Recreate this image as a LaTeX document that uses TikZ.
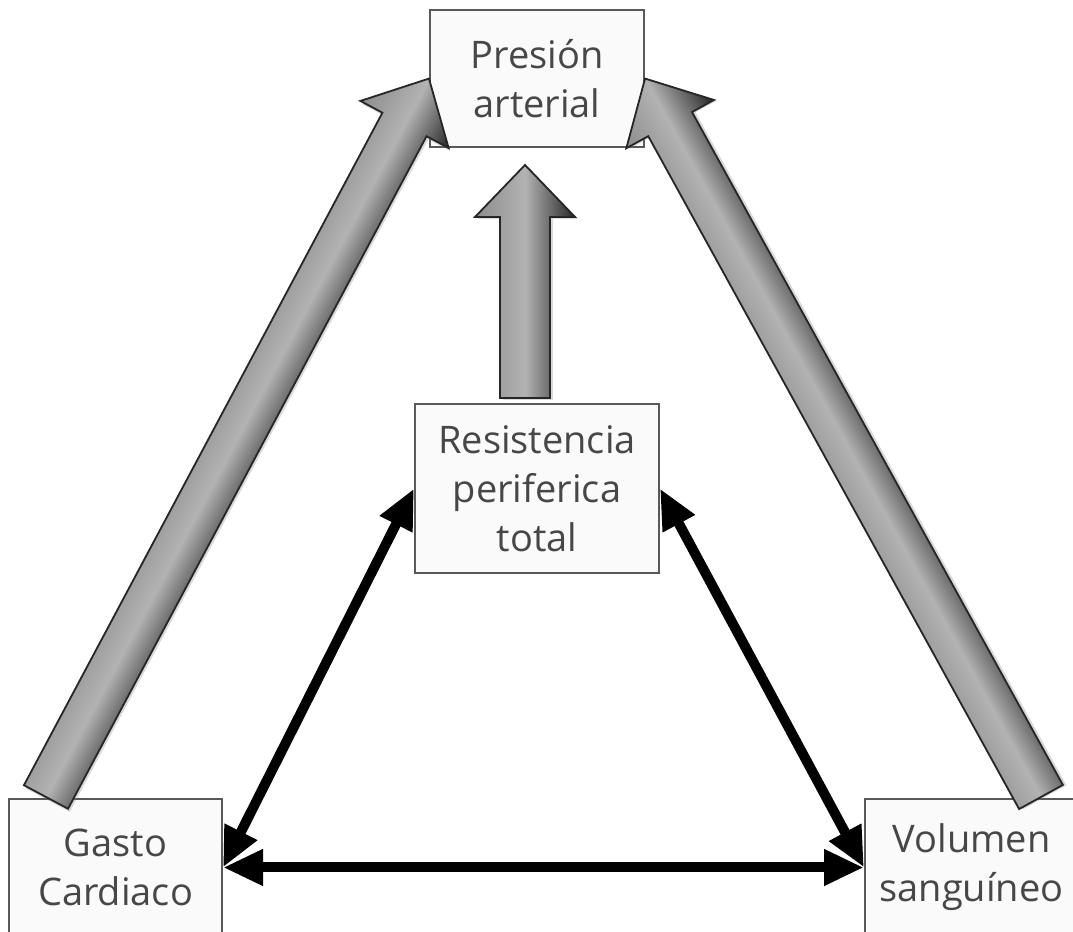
\documentclass[tikz,border=0pt]{standalone}
\usepackage{fontspec}
\setmainfont{Open Sans}
\usetikzlibrary{arrows.meta,calc,shadows}

\tikzset{
  box/.style={shape=rectangle, draw=black!65, line width=1pt, fill=black!2,
    text=black!72, align=center, inner sep=0pt,
    font=\fontsize{19}{24.5}\selectfont},
  bigarrow/.style={draw=black!85, line width=0.9pt, top color=black!45,
    bottom color=black!85, middle color=black!30,
    drop shadow={opacity=0.3, shadow xshift=-1pt, shadow yshift=-1.5pt}},
  twoway/.style={line width=5pt,
    {Triangle[length=20pt,width=17pt]}-{Triangle[length=20pt,width=17pt]}}
}

% thick shaded arrow from #1 to #2
\newcommand{\grayarrow}[2]{%
  \path let \p1=($(#2)-(#1)$) in
    \pgfextra{\pgfmathsetmacro\arrang{atan2(\y1,\x1)}%
              \pgfmathsetmacro\arrlen{veclen(\x1,\y1)}%
              \xdef\arrang{\arrang}\xdef\arrlen{\arrlen}};
  \begin{scope}[transform canvas={shift={(#1)}, rotate=\arrang}]
    \shade[bigarrow] (0pt,-12.5pt) -- (\arrlen pt-26pt,-12.5pt)
      -- (\arrlen pt-26pt,-25pt) -- (\arrlen pt,0pt)
      -- (\arrlen pt-26pt,25pt) -- (\arrlen pt-26pt,12.5pt)
      -- (0pt,12.5pt) -- cycle;
  \end{scope}}

\begin{document}
\begin{tikzpicture}[x=0.5pt, y=0.5pt]
\useasboundingbox (0,0) rectangle (1073,932);

\node at (537, 853.5) [box, minimum width=107pt, minimum height=68.5pt] (presion) {Presión\\arterial};
\node at (537, 443.5) [box, minimum width=122pt, minimum height=84.5pt] (resist) {Resistencia\\periferica\\total};
\node at (115.5, 64.5) [box, minimum width=106.5pt, minimum height=68.5pt] (gasto) {Gasto\\Cardiaco};
\node at (971.5, 64.5) [box, minimum width=106.5pt, minimum height=68.5pt] (volumen) {Volumen\\sanguíneo};

\coordinate (gasto tail) at ($(gasto.north west)+(38,1)$);
\coordinate (volumen tail) at ($(volumen.north east)+(-38,1)$);
\coordinate (resist tail) at ($(resist.north)+(-12,5)$);
\coordinate (resist tip) at ($(presion.south)+(-12,-17)$);

\grayarrow{gasto tail}{presion.west}
\grayarrow{volumen tail}{presion.east}
\grayarrow{resist tail}{resist tip}

\draw [twoway] (resist.west) to (gasto.east);
\draw [twoway] (resist.east) to (volumen.west);
\draw [twoway] (gasto.east) to (volumen.west);
\end{tikzpicture}
\end{document}
